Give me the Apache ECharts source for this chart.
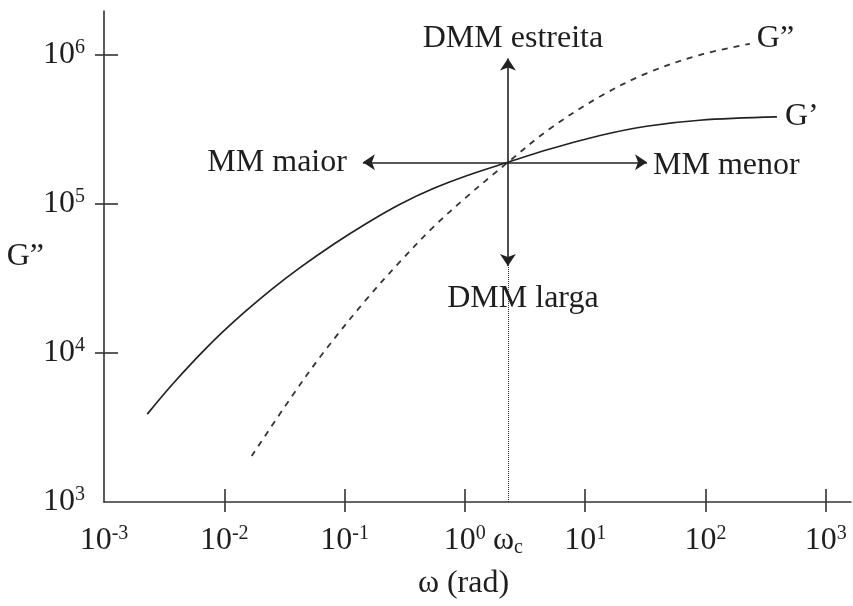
<!DOCTYPE html>
<html>
<head>
<meta charset="utf-8">
<script src="https://cdn.jsdelivr.net/npm/echarts@6/dist/echarts.min.js"></script>
<style>
  html, body { margin: 0; padding: 0; background: #ffffff; }
  #chart { width: 853px; height: 606px; }
</style>
</head>
<body>
<div id="chart"></div>
<script>
// Storage modulus G' over the frequency sweep
const omegaStorage = [0.00229, 0.00377, 0.00714, 0.0135, 0.0255, 0.0426, 0.0805, 0.153, 0.289, 0.546, 1.035, 2.28, 5.09, 13.3, 32.4, 89.5, 393];
const gStorage = [3880, 6250, 10840, 17580, 27100, 37200, 53200, 73800, 98900, 125900, 153500, 189000, 231700, 285800, 329600, 361400, 380200];

// Loss modulus G'' over the frequency sweep
const omegaLoss = [0.0169, 0.0352, 0.0665, 0.153, 0.289, 0.546, 1.035, 1.72, 2.28, 5.09, 13.3, 32.4, 89.5, 234];
const gLoss = [2030, 4900, 10000, 22960, 40740, 69500, 110900, 156700, 189000, 317000, 521200, 744700, 988600, 1175000];

// Crossover point (omega_c, G_c) and the tips of the four arrows drawn from it
const omegaC = 2.28;
const gCross = 189000;
const arrowTopG = 938000;
const arrowBottomG = 38100;
const arrowLeftOmega = 0.142;
const arrowRightOmega = 32.7;

// Decades shown on each axis (powers of ten)
const xDecades = [-3, -2, -1, 0, 1, 2, 3];
const yDecades = [3, 4, 5, 6];

const FONT = "'Liberation Serif', 'Times New Roman', serif";
const INK = '#1e1e1e';
const lg = Math.log10;

const xMin = -3, xMax = 3.21;
const yMin = 3, yMax = 6.29;

const rich = {
  b: { fontSize: 32, lineHeight: 34, fontFamily: FONT, color: INK },
  s: { fontSize: 20, lineHeight: 19, verticalAlign: 'top', fontFamily: FONT, color: INK },
  c: { fontSize: 20, lineHeight: 12, verticalAlign: 'bottom', fontFamily: FONT, color: INK }
};

function powerLabel(v) {
  const r = Math.round(v * 1000) / 1000;
  if (Number.isInteger(r)) return '{b|10}{s|' + r + '}';
  return '{b|ω}{c|c}';
}

const textStyle = { fontFamily: FONT, fontSize: 32, color: INK };
const axisLineStyle = { color: '#333', width: 1.6 };

function arrow(toCoord, text, label) {
  return [
    { coord: [lg(omegaC), lg(gCross)], symbol: 'none' },
    {
      coord: toCoord,
      symbol: 'arrow',
      symbolSize: 12,
      label: Object.assign({ show: true, formatter: text, position: 'end' }, textStyle, label)
    }
  ];
}

const chart = echarts.init(document.getElementById('chart'), null, { renderer: 'canvas' });

chart.setOption({
  animation: false,
  backgroundColor: '#ffffff',
  grid: { left: 104, right: 2, top: 11, bottom: 104, containLabel: false, outerBoundsMode: 'none' },
  xAxis: [
    {
      type: 'value', min: xMin, max: xMax, position: 'bottom',
      axisLine: { show: true, onZero: false, lineStyle: axisLineStyle },
      axisTick: { show: true, inside: false, length: 10, customValues: xDecades.slice(1), lineStyle: axisLineStyle },
      axisLabel: { show: true, margin: 22, customValues: xDecades.concat([lg(omegaC)]), formatter: powerLabel, rich: rich },
      splitLine: { show: false },
      name: 'ω (rad)', nameLocation: 'middle', nameGap: 66, nameMoveOverlap: false,
      nameTextStyle: Object.assign({ padding: [0, 28, 0, 0] }, textStyle)
    },
    {
      type: 'value', min: xMin, max: xMax, position: 'bottom',
      axisLine: { show: false, onZero: false },
      axisTick: { show: true, inside: true, length: 13, customValues: xDecades.slice(1), lineStyle: axisLineStyle },
      axisLabel: { show: false },
      splitLine: { show: false }
    }
  ],
  yAxis: [
    {
      type: 'value', min: yMin, max: yMax, position: 'left',
      axisLine: { show: true, onZero: false, lineStyle: axisLineStyle },
      axisTick: { show: true, inside: false, length: 9, customValues: yDecades.slice(1), lineStyle: axisLineStyle },
      axisLabel: { show: true, margin: 19, customValues: yDecades, formatter: powerLabel, rich: rich },
      splitLine: { show: false },
      name: 'G”', nameLocation: 'middle', nameRotate: 0, nameGap: 60, nameMoveOverlap: false,
      nameTextStyle: textStyle
    },
    {
      type: 'value', min: yMin, max: yMax, position: 'left',
      axisLine: { show: false, onZero: false },
      axisTick: { show: true, inside: true, length: 14, customValues: yDecades.slice(1), lineStyle: axisLineStyle },
      axisLabel: { show: false },
      splitLine: { show: false }
    }
  ],
  series: [
    {
      name: 'G’', type: 'line', xAxisIndex: 0, yAxisIndex: 0,
      data: omegaStorage.map((w, i) => [lg(w), lg(gStorage[i])]),
      showSymbol: false, smooth: 0.35,
      lineStyle: { color: '#222', width: 1.7 },
      endLabel: Object.assign({ show: true, formatter: 'G’', distance: 8, offset: [0, 0] }, textStyle),
      markLine: {
        silent: true,
        animation: false,
        lineStyle: { color: '#222', width: 1.6, type: 'solid' },
        data: [
          arrow([lg(omegaC), lg(arrowTopG)], 'DMM estreita', { distance: 4, padding: [0, 0, 0, 10] }),
          arrow([lg(omegaC), lg(arrowBottomG)], 'DMM larga', { distance: 17, padding: [0, 0, 0, 30] }),
          arrow([lg(arrowLeftOmega), lg(gCross)], 'MM maior', { distance: 16 }),
          arrow([lg(arrowRightOmega), lg(gCross)], 'MM menor', { distance: 6, offset: [0, 3] }),
          [
            { coord: [lg(omegaC), yMin], symbol: 'none', lineStyle: { type: 'dotted', width: 1, color: '#333' }, label: { show: false } },
            { coord: [lg(omegaC), lg(arrowBottomG)], symbol: 'none' }
          ]
        ]
      }
    },
    {
      name: 'G”', type: 'line', xAxisIndex: 0, yAxisIndex: 0,
      data: omegaLoss.map((w, i) => [lg(w), lg(gLoss[i])]),
      showSymbol: false, smooth: 0.35,
      lineStyle: { color: '#333', width: 1.8, type: [6, 6] },
      endLabel: Object.assign({ show: true, formatter: 'G”', distance: 7, offset: [0, -5] }, textStyle)
    }
  ]
});
</script>
</body>
</html>
